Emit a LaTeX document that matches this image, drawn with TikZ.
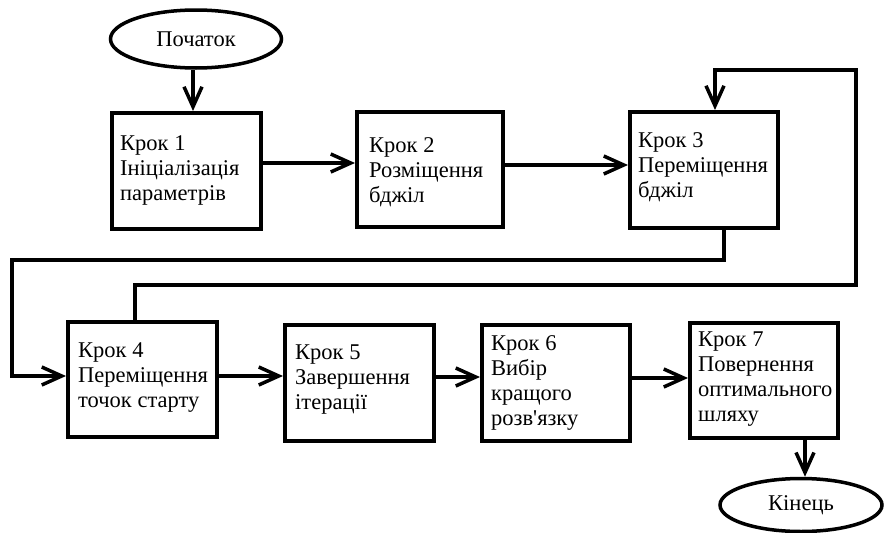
\documentclass[tikz,border=0pt]{standalone}
\usepackage{fontspec}
\setmainfont[Ligatures=TeXOff]{Liberation Serif}
\usetikzlibrary{arrows.meta,shapes.geometric}
\begin{document}
\begin{tikzpicture}[x=1pt,y=-1pt,
  every node/.style={font=\fontsize{22.5}{25}\selectfont},
  stepbox/.style={draw,line width=4pt,rectangle,inner sep=0pt},
  term/.style={draw,line width=3.5pt,ellipse,inner sep=0pt},
  txt/.style={anchor=north west,align=left,inner sep=0pt},
  conn/.style={line width=3.5pt},
  arr/.style={conn,-{Straight Barb[length=20pt,width=18pt,line width=3.5pt]}}
]
\useasboundingbox (0,0) rectangle (884,533);
% terminals
\node[term,minimum width=171pt,minimum height=58pt] (start) at (196,39) {Початок};
\node[term,minimum width=162pt,minimum height=53pt] (end) at (801,505) {Кінець};
% boxes
\node[stepbox,minimum width=149pt,minimum height=116pt] (b1) at (186.5,171) {};
\node[stepbox,minimum width=146pt,minimum height=115pt] (b2) at (430,169.5) {};
\node[stepbox,minimum width=148pt,minimum height=116pt] (b3) at (704,170) {};
\node[stepbox,minimum width=149pt,minimum height=115pt] (b4) at (142.5,379.5) {};
\node[stepbox,minimum width=149pt,minimum height=116pt] (b5) at (359.5,383) {};
\node[stepbox,minimum width=148pt,minimum height=116pt] (b6) at (556,383) {};
\node[stepbox,minimum width=148pt,minimum height=115pt] (b7) at (764,380.5) {};
% texts (first baseline minus 15pt)
\node[txt] (t1) at (120,135) {Крок 1\\Ініціалізація\\параметрів};
\node[txt] (t2) at (369,137) {Крок 2\\Розміщення\\бджіл};
\node[txt] (t3) at (638,132) {Крок 3\\Переміщення\\бджіл};
\node[txt] (t4) at (78,342) {Крок 4\\Переміщення\\точок старту};
\node[txt] (t5) at (295,345) {Крок 5\\Завершення\\ітерації};
\node[txt] (t6) at (491,335) {Крок 6\\Вибір\\кращого\\розв'язку};
\node[txt] (t7) at (698,332) {Крок 7\\Повернення\\оптимального\\шляху};
% corner coordinates
\coordinate (l1) at (135,285);
\coordinate (l2) at (856,70);
\coordinate (l3) at (715,70);
\coordinate (d1) at (724,260);
\coordinate (d2) at (12,376);
% connectors
\draw[arr] (start.south -| 193,0) -- (b1.north -| 193,0);
\draw[arr] (b1.east |- 0,163) -- (b2.west |- 0,163);
\draw[arr] (b2.east |- 0,165) -- (b3.west |- 0,165);
\draw[arr] (b4.north -| l1) -- (l1) -| (l2) -- (l3) -- (b3.north -| l3);
\draw[arr] (b3.south -| d1) -- (d1) -| (d2) -- (b4.west |- d2);
\draw[arr] (b4.east |- 0,376) -- (b5.west |- 0,376);
\draw[arr] (b5.east |- 0,377) -- (b6.west |- 0,377);
\draw[arr] (b6.east |- 0,378) -- (b7.west |- 0,378);
\draw[arr] (b7.south -| 805,0) -- (end.north -| 805,0);
\end{tikzpicture}
\end{document}
